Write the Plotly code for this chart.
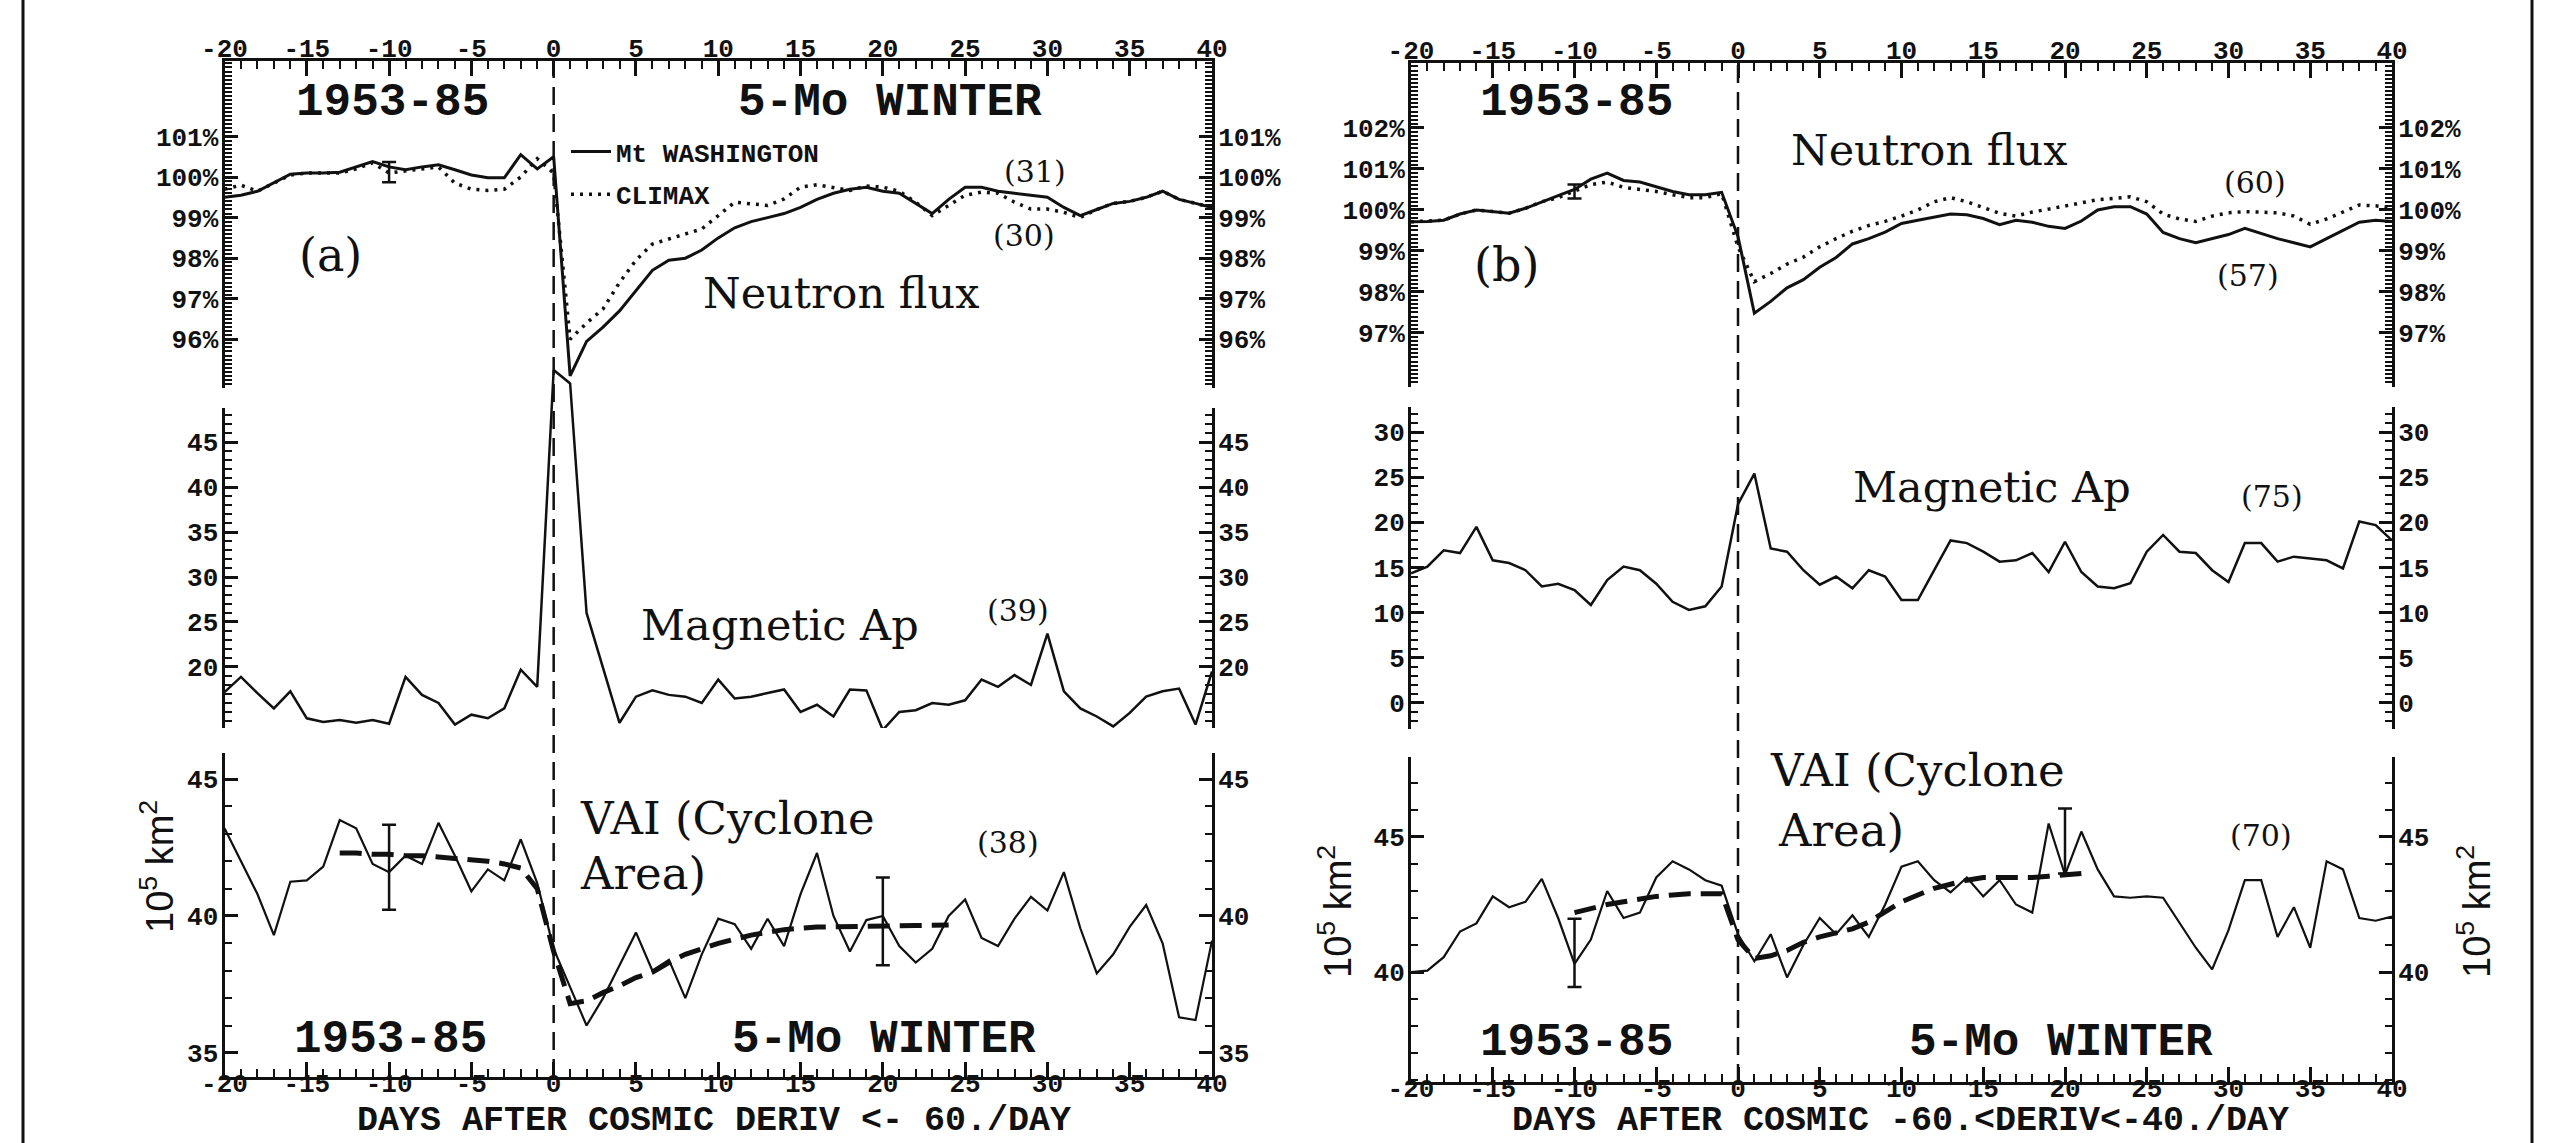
import plotly.graph_objects as go

W, H = 2560, 1143
INK = "#111111"

# ---------------- data ----------------
days = list(range(-20, 41))

# panel (a)  cosmic deriv < -60 /day
mtw_a = [99.50, 99.55, 99.65, 99.85, 100.07, 100.10, 100.10, 100.12, 100.25, 100.38,
         100.25, 100.18, 100.25, 100.30, 100.18, 100.05, 99.98, 99.98, 100.55, 100.20,
         100.50, 95.10, 95.95, 96.30, 96.70, 97.20, 97.70, 97.95, 98.00, 98.20,
         98.50, 98.75, 98.90, 99.00, 99.10, 99.25, 99.45, 99.60, 99.70, 99.75,
         99.65, 99.60, 99.35, 99.10, 99.45, 99.75, 99.75, 99.65, 99.60, 99.55,
         99.50, 99.25, 99.05, 99.20, 99.35, 99.40, 99.50, 99.65, 99.45, 99.35, 99.25]
climax_a = [99.70, 99.80, 99.65, 99.85, 100.05, 100.10, 100.10, 100.10, 100.20, 100.35,
            100.10, 100.15, 100.20, 100.25, 99.85, 99.70, 99.67, 99.70, 100.00, 100.45,
            100.10, 96.00, 96.40, 96.75, 97.40, 97.95, 98.35, 98.47, 98.60, 98.72,
            99.05, 99.38, 99.34, 99.30, 99.46, 99.75, 99.81, 99.75, 99.67, 99.78,
            99.75, 99.65, 99.38, 99.05, 99.30, 99.55, 99.63, 99.60, 99.38, 99.21,
            99.21, 99.13, 99.00, 99.20, 99.35, 99.40, 99.50, 99.65, 99.45, 99.35, 99.25]
ap_a = [17.2, 18.9, 17.1, 15.4, 17.3, 14.3, 13.9, 14.1, 13.8, 14.1,
        13.7, 18.9, 16.9, 16.0, 13.6, 14.7, 14.3, 15.4, 19.7, 17.8,
        53.0, 51.5, 26.0, 20.0, 13.8, 16.7, 17.4, 16.9, 16.7, 16.0,
        18.6, 16.5, 16.7, 17.1, 17.5, 15.0, 15.8, 14.5, 17.5, 17.4,
        13.0, 15.0, 15.2, 16.0, 15.8, 16.3, 18.6, 17.8, 19.1, 18.0,
        23.7, 17.3, 15.4, 14.5, 13.4, 14.9, 16.7, 17.3, 17.6, 13.6, 19.5]
vai_a = [43.2, 42.0, 40.8, 39.3, 41.25, 41.3, 41.8, 43.5, 43.2, 41.9,
         41.6, 42.2, 41.9, 43.4, 42.2, 40.9, 41.7, 41.3, 42.8, 41.2,
         38.8, 37.4, 36.0, 37.0, 38.2, 39.4, 38.0, 38.4, 37.0, 38.6,
         39.9, 39.7, 38.8, 39.9, 38.9, 40.8, 42.3, 40.0, 38.7, 39.85,
         40.0, 38.9, 38.3, 38.8, 40.0, 40.6, 39.2, 38.9, 39.9, 40.7,
         40.2, 41.6, 39.55, 37.9, 38.6, 39.6, 40.4, 39.0, 36.3, 36.2, 39.1]
trend_a_days = list(range(-13, 25))
trend_a = [42.3, 42.3, 42.25, 42.25, 42.2, 42.2, 42.15, 42.1, 42.05, 42.0,
           41.9, 41.75, 41.0, 38.7, 36.8, 36.9, 37.2, 37.45, 37.75, 37.95,
           38.3, 38.6, 38.8, 39.0, 39.15, 39.3, 39.4, 39.5, 39.55, 39.6,
           39.6, 39.6, 39.62, 39.63, 39.64, 39.65, 39.66, 39.67]
err_a_neut_x, err_a_neut_y, err_a_neut_e = [-10], [100.12], [0.25]
err_a_vai_x, err_a_vai_y, err_a_vai_e = [-10, 20], [41.78, 39.8], [1.55, 1.6]

# panel (b)  -60 < cosmic deriv < -40 /day
mtw_b = [99.71, 99.72, 99.75, 99.90, 100.00, 99.96, 99.92, 100.04, 100.20, 100.35,
         100.50, 100.75, 100.90, 100.72, 100.68, 100.56, 100.45, 100.37, 100.37, 100.43,
         99.35, 97.48, 97.77, 98.10, 98.30, 98.60, 98.84, 99.17, 99.30, 99.46,
         99.67, 99.75, 99.82, 99.90, 99.88, 99.79, 99.64, 99.75, 99.70, 99.60,
         99.55, 99.73, 100.00, 100.08, 100.08, 99.90, 99.45, 99.30, 99.20, 99.30,
         99.40, 99.55, 99.42, 99.30, 99.20, 99.10, 99.30, 99.50, 99.70, 99.75, 99.72]
climax_b = [99.71, 99.72, 99.75, 99.90, 100.00, 99.96, 99.92, 100.04, 100.20, 100.30,
            100.45, 100.62, 100.68, 100.55, 100.50, 100.45, 100.37, 100.30, 100.30, 100.40,
            99.10, 98.25, 98.45, 98.68, 98.85, 99.10, 99.30, 99.48, 99.62, 99.72,
            99.85, 100.00, 100.20, 100.30, 100.20, 100.07, 99.92, 99.85, 99.95, 100.02,
            100.10, 100.18, 100.25, 100.28, 100.32, 100.20, 99.90, 99.78, 99.72, 99.85,
            99.93, 99.96, 99.95, 99.93, 99.85, 99.65, 99.78, 99.95, 100.12, 100.10, 100.05]
ap_b = [14.35, 15.1, 16.9, 16.6, 19.5, 15.8, 15.5, 14.7, 12.9, 13.2,
        12.5, 10.85, 13.6, 15.1, 14.7, 13.2, 11.2, 10.3, 10.7, 12.9,
        22.0, 25.4, 17.1, 16.75, 14.7, 13.1, 14.0, 12.7, 14.7, 14.0,
        11.4, 11.4, 14.7, 18.0, 17.7, 16.75, 15.65, 15.8, 16.6, 14.5,
        17.85, 14.5, 12.9, 12.7, 13.25, 16.75, 18.6, 16.75, 16.6, 14.7,
        13.4, 17.7, 17.7, 15.65, 16.2, 16.0, 15.8, 14.9, 20.1, 19.7, 18.0]
vai_b = [40.0, 40.05, 40.55, 41.5, 41.8, 42.8, 42.4, 42.6, 43.45, 42.0,
         40.3, 41.2, 43.0, 42.0, 42.2, 43.5, 44.1, 43.8, 43.4, 43.2,
         41.4, 40.4, 41.4, 39.8, 41.0, 42.0, 41.4, 42.1, 41.3, 42.5,
         43.9, 44.1, 43.4, 42.95, 43.5, 42.8, 43.4, 42.5, 42.2, 45.5,
         43.6, 45.2, 43.8, 42.8, 42.75, 42.8, 42.75, 41.8, 40.9, 40.1,
         41.55, 43.4, 43.4, 41.3, 42.4, 40.9, 44.1, 43.8, 42.0, 41.9, 42.05]
trend_b_days = list(range(-10, 22))
trend_b = [42.2, 42.35, 42.5, 42.6, 42.7, 42.8, 42.85, 42.9, 42.9, 42.9,
           41.2, 40.5, 40.6, 40.8, 41.1, 41.3, 41.45, 41.6, 41.85, 42.2,
           42.6, 42.85, 43.1, 43.25, 43.4, 43.5, 43.5, 43.5, 43.5, 43.55, 43.6, 43.65]
err_b_neut_x, err_b_neut_y, err_b_neut_e = [-10], [100.45], [0.17]
err_b_vai_x, err_b_vai_y, err_b_vai_e = [-10, 20], [40.71, 44.85], [1.26, 1.2]

x_ticks = list(range(-20, 41, 5))
x_ticktext = [str(v) for v in x_ticks]
neut_a_ticks = [96, 97, 98, 99, 100, 101]
neut_b_ticks = [97, 98, 99, 100, 101, 102]
ap_a_ticks = [20, 25, 30, 35, 40, 45]
ap_b_ticks = [0, 5, 10, 15, 20, 25, 30]
vai_a_ticks = [35, 40, 45]
vai_b_ticks = [40, 45]

# ---------------- geometry helpers ----------------
def fx(p):
    return p / W

def fy(p):
    return 1 - p / H

MONO = "Liberation Mono"
SERIF = "DejaVu Serif"
TICKFONT = dict(family=MONO, size=26, color=INK, weight="bold")

A_X = [fx(224.5), fx(1212)]
B_X = [fx(1411), fx(2392)]


def yax(rng, vals, suffix, minor_dtick, side="left", anchor="x", overlaying=None,
        domain=None):
    d = dict(range=rng, tickmode="array", tickvals=list(vals),
             ticktext=[f"{v}{suffix}" for v in vals], side=side,
             anchor=anchor, showline=True, linecolor=INK, linewidth=3,
             ticks="inside", ticklen=13, tickwidth=3, tickcolor=INK,
             minor=dict(ticks="inside", ticklen=7, tickwidth=2, tickcolor=INK,
                        dtick=minor_dtick, tick0=0, showgrid=False),
             showgrid=False, zeroline=False, tickfont=TICKFONT, fixedrange=True,
             automargin=False, ticklabelstandoff=-2)
    if overlaying:
        d["overlaying"] = overlaying
    if domain:
        d["domain"] = domain
    return d


def xax(domain, side, anchor, standoff):
    return dict(domain=domain, range=[-20, 40], side=side, anchor=anchor,
                tickmode="array", tickvals=x_ticks, ticktext=x_ticktext,
                showline=True, linecolor=INK, linewidth=3, ticks="inside",
                ticklen=15, tickwidth=3, tickcolor=INK,
                minor=dict(ticks="inside", ticklen=8, tickwidth=2, tickcolor=INK,
                           dtick=1, tick0=0, showgrid=False),
                showgrid=False, zeroline=False, tickfont=TICKFONT, fixedrange=True,
                automargin=False, ticklabelstandoff=standoff)


# ranges derived from the pixel calibration of the scanned axes
rng_neut_a = [94.80, 102.86]
rng_ap_a = [13.22, 48.78]
rng_ap_a_draw = [13.22, 55.22]
rng_vai_a = [34.12, 45.95]
rng_neut_b = [95.68, 103.585]
rng_ap_b = [-2.88, 32.77]
rng_vai_b = [35.93, 47.96]

layout = dict(
    template="none",
    width=W, height=H, autosize=False,
    margin=dict(l=0, r=0, t=0, b=0, pad=0),
    paper_bgcolor="white", plot_bgcolor="rgba(0,0,0,0)",
    showlegend=True,
    legend=dict(x=fx(566), y=fy(128), xanchor="left", yanchor="top",
                font=dict(family=MONO, size=26, color=INK, weight="bold"),
                bgcolor="rgba(0,0,0,0)", itemwidth=40, tracegroupgap=6,
                borderwidth=0),
    # panel a
    xaxis=xax(A_X, "top", "y", -9),
    xaxis2=xax(A_X, "bottom", "y3", -19),
    yaxis=yax(rng_neut_a, neut_a_ticks, "%", 0.1, domain=[fy(388), fy(61)]),
    yaxis2=yax(rng_ap_a, ap_a_ticks, "", 1, domain=[fy(728), fy(408)]),
    yaxis3=yax(rng_vai_a, vai_a_ticks, "", 1, anchor="x2",
               domain=[fy(1077), fy(753)]),
    yaxis4=yax(rng_neut_a, neut_a_ticks, "%", 0.1, side="right", overlaying="y"),
    yaxis5=yax(rng_ap_a, ap_a_ticks, "", 1, side="right", overlaying="y2"),
    yaxis6=yax(rng_vai_a, vai_a_ticks, "", 1, side="right", anchor="x2",
               overlaying="y3"),
    yaxis7=dict(domain=[fy(728), fy(350)], range=rng_ap_a_draw, visible=False,
                anchor="x", fixedrange=True, automargin=False),
    # panel b
    xaxis3=xax(B_X, "top", "y8", -9),
    xaxis4=xax(B_X, "bottom", "y10", -19),
    yaxis8=yax(rng_neut_b, neut_b_ticks, "%", 0.1, anchor="x3",
               domain=[fy(387), fy(63)]),
    yaxis9=yax(rng_ap_b, ap_b_ticks, "", 1, anchor="x3",
               domain=[fy(729), fy(407)]),
    yaxis10=yax(rng_vai_b, vai_b_ticks, "", 1, anchor="x4",
                domain=[fy(1082), fy(757)]),
    yaxis11=yax(rng_neut_b, neut_b_ticks, "%", 0.1, side="right", anchor="x3",
                overlaying="y8"),
    yaxis12=yax(rng_ap_b, ap_b_ticks, "", 1, side="right", anchor="x3",
                overlaying="y9"),
    yaxis13=yax(rng_vai_b, vai_b_ticks, "", 1, side="right", anchor="x4",
                overlaying="y10"),
)

fig = go.Figure(layout=layout)


def line(x, y, xa, ya, width=2.5, dash="solid", name=None, legend=False, group=None):
    fig.add_trace(go.Scatter(x=x, y=y, xaxis=xa, yaxis=ya, mode="lines",
                             line=dict(color=INK, width=width, dash=dash),
                             name=name, showlegend=legend, legendgroup=group,
                             hoverinfo="skip"))


def errbar(x, y, e, xa, ya):
    fig.add_trace(go.Scatter(x=x, y=y, xaxis=xa, yaxis=ya, mode="markers",
                             marker=dict(size=1, color=INK),
                             error_y=dict(type="data", array=e, visible=True,
                                          color=INK, thickness=2.5, width=7),
                             showlegend=False, hoverinfo="skip"))


def dummy(xa, ya):
    fig.add_trace(go.Scatter(x=[None], y=[None], xaxis=xa, yaxis=ya, mode="lines",
                             showlegend=False, hoverinfo="skip"))

DOT = "3px,6px"
TREND = "22px,10px"

# panel (a)
line(days, mtw_a, "x", "y", width=3, name="Mt WASHINGTON", legend=True, group="g1")
line(days, climax_a, "x", "y", width=3.5, dash=DOT, name="CLIMAX", legend=True, group="g2")
errbar(err_a_neut_x, err_a_neut_y, err_a_neut_e, "x", "y")
line(days, ap_a, "x", "y7", width=2.5)
line(days, vai_a, "x2", "y3", width=2.2)
line(trend_a_days, trend_a, "x2", "y3", width=5, dash=TREND)
errbar(err_a_vai_x, err_a_vai_y, err_a_vai_e, "x2", "y3")
for xa, ya in [("x", "y2"), ("x", "y4"), ("x", "y5"), ("x2", "y6")]:
    dummy(xa, ya)

# panel (b)
line(days, mtw_b, "x3", "y8", width=3)
line(days, climax_b, "x3", "y8", width=3.5, dash=DOT)
errbar(err_b_neut_x, err_b_neut_y, err_b_neut_e, "x3", "y8")
line(days, ap_b, "x3", "y9", width=2.5)
line(days, vai_b, "x4", "y10", width=2.2)
line(trend_b_days, trend_b, "x4", "y10", width=5, dash=TREND)
errbar(err_b_vai_x, err_b_vai_y, err_b_vai_e, "x4", "y10")
for xa, ya in [("x3", "y11"), ("x3", "y12"), ("x4", "y13")]:
    dummy(xa, ya)

# day-0 reference lines and frame
shapes = [
    dict(type="line", xref="x", yref="paper", x0=0, x1=0, y0=fy(1077), y1=fy(61),
         line=dict(color=INK, width=2.5, dash="18px,9px")),
    dict(type="line", xref="x3", yref="paper", x0=0, x1=0, y0=fy(1082), y1=fy(63),
         line=dict(color=INK, width=2.5, dash="18px,9px")),
    dict(type="line", xref="paper", yref="paper", x0=fx(23), x1=fx(23), y0=0, y1=1,
         line=dict(color=INK, width=3)),
    dict(type="line", xref="paper", yref="paper", x0=fx(2532), x1=fx(2532), y0=0, y1=1,
         line=dict(color=INK, width=3)),
]
fig.update_layout(shapes=shapes)

anns = []


def ann(text, x, y, size, family, xanchor="center", angle=0, weight="normal",
        yanchor="middle"):
    anns.append(dict(text=text, x=fx(x), y=fy(y), xref="paper", yref="paper",
                     xanchor=xanchor, yanchor=yanchor, showarrow=False,
                     textangle=angle,
                     font=dict(family=family, size=size, color=INK, weight=weight)))

# monospace plotter labels
for t, x, y in [("1953-85", 392, 103), ("5-Mo WINTER", 890, 103),
                ("1953-85", 390, 1040), ("5-Mo WINTER", 884, 1040),
                ("1953-85", 1576, 103),
                ("1953-85", 1576, 1043), ("5-Mo WINTER", 2061, 1043)]:
    ann(t, x, y, 46, MONO, weight="bold")
ann("DAYS AFTER COSMIC DERIV <- 60./DAY", 714, 1143, 35, MONO, weight="bold",
    yanchor="bottom")
ann("DAYS AFTER COSMIC -60.&lt;DERIV&lt;-40./DAY", 1900, 1143, 35, MONO,
    weight="bold", yanchor="bottom")

# serif labels
for t, x, y, s in [("(a)", 330, 255, 46), ("Neutron flux", 841, 293, 43),
                   ("(31)", 1035, 172, 30), ("(30)", 1024, 235, 30),
                   ("Magnetic Ap", 780, 625, 43), ("(39)", 1018, 610, 30),
                   ("(38)", 1008, 843, 30),
                   ("(b)", 1506, 265, 46), ("Neutron flux", 1929, 150, 43),
                   ("(60)", 2255, 182, 30), ("(57)", 2248, 275, 30),
                   ("Magnetic Ap", 1992, 487, 43), ("(75)", 2272, 497, 30),
                   ("(70)", 2261, 835, 30)]:
    ann(t, x, y, s, SERIF)
for t, x, y in [("VAI (Cyclone", 578, 818), ("Area)", 578, 873),
                ("VAI (Cyclone", 1768, 770), ("Area)", 1776, 830)]:
    ann(t, x, y, 45, SERIF, xanchor="left")

# VAI unit titles
for x, y in [(157, 867), (1335, 912), (2474, 912)]:
    ann("10<sup>5</sup> km<sup>2</sup>", x, y, 38, "Liberation Sans", angle=-90)

fig.update_layout(annotations=anns)

fig.write_html("out.html")
